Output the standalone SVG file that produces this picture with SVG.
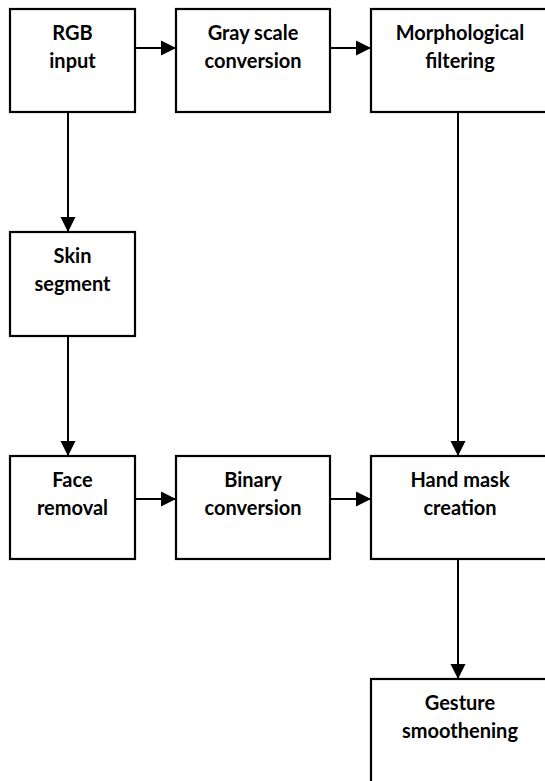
<svg xmlns="http://www.w3.org/2000/svg" width="545" height="781" viewBox="0 0 545 781">
<style>
.box{fill:#fff;stroke:#000;stroke-width:2.2}
.lbl{font-family:Lato,"Open Sans","Liberation Sans",sans-serif;font-weight:bold;font-size:20px;fill:#000;text-anchor:middle}
.con{stroke:#000;stroke-width:2;fill:none;marker-end:url(#ah)}
</style>
<defs>
<marker id="ah" markerUnits="userSpaceOnUse" markerWidth="16" markerHeight="16" viewBox="0 0 16 16" refX="15" refY="8" orient="auto">
<path d="M0,0.5 L15,8 L0,15.5 Z" fill="#000"/>
</marker>
</defs>
<rect width="545" height="781" fill="#fff"/>
<g id="connectors">
<line class="con" x1="135" y1="48" x2="176" y2="48"/>
<line class="con" x1="330" y1="48" x2="371" y2="48"/>
<line class="con" x1="68" y1="112" x2="68" y2="232"/>
<line class="con" x1="68" y1="336" x2="68" y2="456"/>
<line class="con" x1="458" y1="112" x2="458" y2="456"/>
<line class="con" x1="135" y1="499" x2="176" y2="499"/>
<line class="con" x1="330" y1="499" x2="371" y2="499"/>
<line class="con" x1="458" y1="559" x2="458" y2="679"/>
</g>
<g id="rgb-input">
<rect class="box" x="10" y="9" width="125" height="103"/>
<text class="lbl" x="72.5" y="40">RGB</text>
<text class="lbl" x="72.5" y="68">input</text>
</g>
<g id="gray-scale">
<rect class="box" x="176" y="9" width="154" height="103"/>
<text class="lbl" x="253" y="40">Gray scale</text>
<text class="lbl" x="253" y="68">conversion</text>
</g>
<g id="morphological">
<rect class="box" x="371" y="9" width="178" height="103"/>
<text class="lbl" x="460" y="40">Morphological</text>
<text class="lbl" x="460" y="68">filtering</text>
</g>
<g id="skin-segment">
<rect class="box" x="10" y="232" width="125" height="104"/>
<text class="lbl" x="72.5" y="263">Skin</text>
<text class="lbl" x="72.5" y="291">segment</text>
</g>
<g id="face-removal">
<rect class="box" x="10" y="456" width="125" height="103"/>
<text class="lbl" x="72.5" y="487">Face</text>
<text class="lbl" x="72.5" y="515">removal</text>
</g>
<g id="binary-conversion">
<rect class="box" x="176" y="456" width="154" height="103"/>
<text class="lbl" x="253" y="487">Binary</text>
<text class="lbl" x="253" y="515">conversion</text>
</g>
<g id="hand-mask">
<rect class="box" x="371" y="456" width="178" height="103"/>
<text class="lbl" x="460" y="487">Hand mask</text>
<text class="lbl" x="460" y="515">creation</text>
</g>
<g id="gesture-smoothening">
<rect class="box" x="371" y="679" width="178" height="110"/>
<text class="lbl" x="460" y="710">Gesture</text>
<text class="lbl" x="460" y="738">smoothening</text>
</g>
</svg>
